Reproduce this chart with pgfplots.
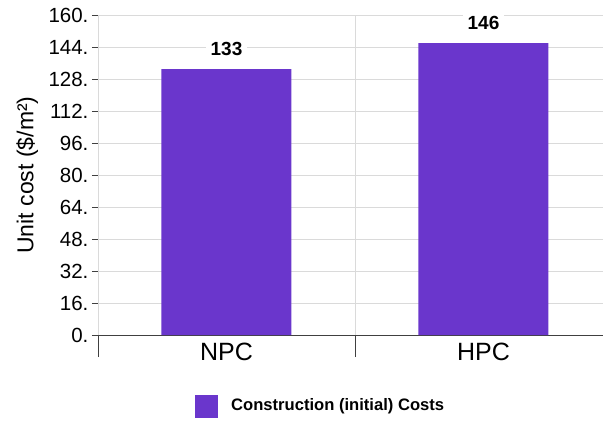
\documentclass[border=0pt]{standalone}
\usepackage{fontspec}
\setmainfont{Liberation Sans}
\usepackage{pgfplots}
\pgfplotsset{compat=1.18}
\definecolor{barpurple}{HTML}{6A36CC}
\definecolor{gridgray}{HTML}{DADADA}
\definecolor{axisgray}{HTML}{404040}
\begin{document}
\begin{tikzpicture}
\begin{axis}[
  name=main,
  scale only axis, width=505pt, height=320pt,
  ybar, bar width=130pt,
  xmin=-0.5, xmax=1.465, ymin=0, ymax=160,
  axis x line*=bottom, axis y line*=left,
  axis line style={axisgray, line width=0.8pt},
  major tick length=0pt, tick align=outside,
  % category names, no tick marks
  xtick={0,1}, xticklabels={NPC,HPC},
  xticklabel style={font=\fontsize{25}{25}\selectfont, yshift=-4pt},
  % category separators: long ticks below the axis and the vertical grid
  extra x ticks={-0.5,0.5}, extra x tick labels={},
  extra x tick style={major tick length=22pt, grid=major,
    major x tick style={axisgray, line width=0.8pt}},
  % horizontal grid from the main y ticks
  ytick={0,16,...,160}, yticklabels={},
  ymajorgrids, grid style={gridgray, line width=0.8pt},
  % short y ticks with their labels
  extra y ticks={0,16,...,160},
  extra y tick labels={0.,16.,32.,48.,64.,80.,96.,112.,128.,144.,160.},
  extra y tick style={major tick length=6pt, grid=none,
    major y tick style={axisgray, line width=0.8pt},
    yticklabel style={font=\fontsize{20.5}{20.5}\selectfont}},
  ylabel={Unit cost (\$/m²)},
  ylabel style={font=\fontsize{23}{23}\selectfont, at={(rel axis cs:-0.14,0.5)}, anchor=center},
  nodes near coords,
  nodes near coords style={font=\bfseries\fontsize{19}{19}\selectfont, fill=white,
    /pgf/number format/assume math mode=true,
    inner xsep=5pt, inner ysep=2pt, anchor=south, yshift=11pt},
  legend style={draw=none, fill=none, at={(0.192,-0.222)}, anchor=west, inner sep=0pt,
    font=\bfseries\fontsize{16.6}{16.6}\selectfont,
    nodes={inner xsep=0pt}},
  legend image code/.code={\fill[barpurple] (0pt,-12pt) rectangle (23pt,11pt);},
]
\addplot[fill=barpurple, draw=none] coordinates {(0,133) (1,146)};
\addlegendentry{\hspace{13pt}Construction (initial) Costs}
\coordinate (bbl) at (rel axis cs:-0.194,-0.2656);
\coordinate (btr) at (rel axis cs:1,1.047);
\end{axis}
\pgfresetboundingbox
\path[use as bounding box] (bbl) rectangle (btr);
\end{tikzpicture}
\end{document}
